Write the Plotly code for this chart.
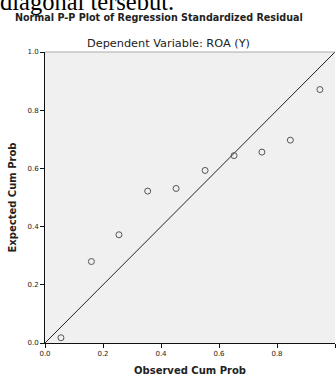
import plotly.graph_objects as go

# Data
observed_cum_prob = [0.055, 0.160, 0.255, 0.354, 0.452, 0.552, 0.652, 0.748, 0.846, 0.948]
expected_cum_prob = [0.018, 0.280, 0.372, 0.522, 0.531, 0.593, 0.644, 0.656, 0.697, 0.871]
ref_line = [0.0, 1.0]
tick_vals = [0.0, 0.2, 0.4, 0.6, 0.8, 1.0]
tick_text = ["0.0", "0.2", "0.4", "0.6", "0.8", "1.0"]

fig = go.Figure()
fig.add_trace(go.Scatter(x=ref_line, y=ref_line, mode="lines",
                         line=dict(color="#222222", width=1), hoverinfo="skip"))
fig.add_trace(go.Scatter(x=observed_cum_prob, y=expected_cum_prob, mode="markers",
                         marker=dict(symbol="circle-open", size=6, color="#555555",
                                     line=dict(color="#555555", width=1))))

sans = "DejaVu Sans, Verdana, sans-serif"
fig.update_layout(
    width=336, height=376,
    margin=dict(l=45, r=1, t=52, b=33),
    paper_bgcolor="white", plot_bgcolor="#f0f0f0",
    showlegend=False,
    font=dict(family=sans, size=7, color="#222222"),
    xaxis=dict(range=[0, 1], tickvals=tick_vals, ticktext=tick_text,
               showgrid=False, zeroline=False, showline=True, linecolor="#111111",
               linewidth=1, ticks="outside", ticklen=4, tickcolor="#111111",
               tickfont=dict(size=7), title=dict(text="<b>Observed Cum Prob</b>",
                                                 font=dict(size=10), standoff=9)),
    yaxis=dict(range=[0, 1], tickvals=tick_vals, ticktext=tick_text,
               showgrid=False, zeroline=False, showline=True, linecolor="#111111",
               linewidth=1, ticks="outside", ticklen=4, tickcolor="#111111",
               tickfont=dict(size=7), title=dict(text="<b>Expected Cum Prob</b>",
                                                 font=dict(size=10), standoff=8)),
    shapes=[dict(type="line", xref="paper", yref="paper", x0=0, x1=1, y0=1, y1=1,
                 line=dict(color="#aaaaaa", width=1))],
    annotations=[
        dict(text="diagonal tersebut.", xref="paper", yref="paper", x=0, y=1,
             xanchor="left", yanchor="middle", xshift=-47, yshift=51,
             showarrow=False, font=dict(family="Liberation Serif, Times New Roman, serif",
                                        size=24.5, color="black")),
        dict(text="<b>Normal P-P Plot of Regression Standardized Residual</b>",
             xref="paper", yref="paper", x=0, y=1, xanchor="center", yanchor="middle",
             xshift=114, yshift=35, showarrow=False,
             font=dict(family=sans, size=9.6, color="#222222")),
        dict(text="Dependent Variable: ROA (Y)",
             xref="paper", yref="paper", x=0, y=1, xanchor="center", yanchor="middle",
             xshift=123, yshift=9, showarrow=False,
             font=dict(family=sans, size=11.3, color="#222222")),
    ],
)

fig.write_html("out.html", config={"displayModeBar": False},
               post_script="document.body.style.margin='0';")
